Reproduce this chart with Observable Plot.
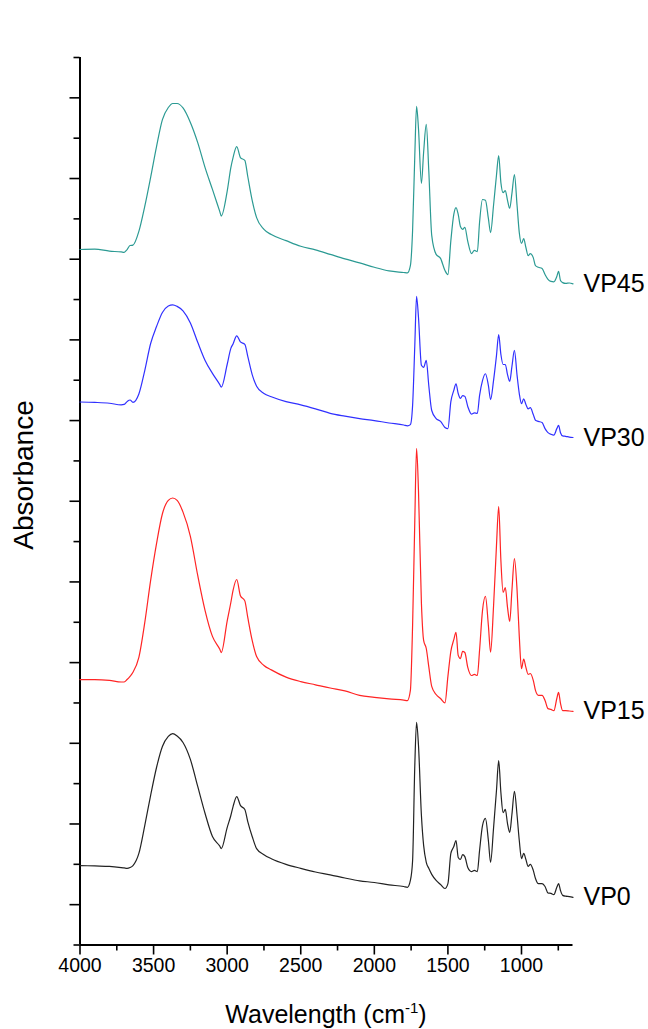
<!DOCTYPE html>
<html><head><meta charset="utf-8">
<script src="https://cdn.jsdelivr.net/npm/d3@7"></script>
<script src="https://cdn.jsdelivr.net/npm/@observablehq/plot@0.6"></script>
<style>
html,body{margin:0;padding:0;background:#fff;}
#chart svg{display:block;}
</style>
</head><body><div id="chart"></div>
<script>
// Wavenumber grid (cm-1)
const wavenumbers = [4000,3900,3800,3720,3700,3680,3660,3640,3600,3560,
  3520,3480,3440,3400,3370,3340,3300,3250,3200,3150,
  3100,3050,3040,3000,2975,2960,2935,2910,2880,2860,
  2830,2800,2750,2700,2600,2500,2400,2300,2200,2100,
  2000,1900,1800,1775,1755,1740,1725,1713,1700,1680,
  1665,1647,1630,1610,1580,1550,1520,1500,1480,1460,
  1445,1430,1415,1400,1385,1365,1340,1320,1300,1285,
  1265,1245,1225,1210,1190,1170,1155,1140,1125,1110,
  1095,1080,1065,1048,1030,1015,1000,985,970,955,
  940,920,905,885,860,840,820,800,780,760,
  748,735,720,700,675,650];

// Absorbance (offset-stacked) per sample
const vp45 = [1.724,1.725,1.720,1.718,1.717,1.724,1.734,1.735,1.769,1.831,
  1.903,1.979,2.046,2.076,2.086,2.086,2.075,2.039,1.989,1.927,
  1.873,1.818,1.807,1.868,1.927,1.952,1.979,1.952,1.945,1.905,
  1.846,1.803,1.774,1.761,1.746,1.732,1.723,1.712,1.701,1.691,
  1.680,1.671,1.667,1.666,1.684,1.771,1.957,2.079,2.024,1.888,
  1.965,2.034,1.920,1.759,1.712,1.702,1.672,1.662,1.746,1.811,
  1.828,1.811,1.781,1.774,1.779,1.744,1.714,1.722,1.719,1.791,
  1.848,1.846,1.801,1.766,1.833,1.908,1.957,1.890,1.865,1.870,
  1.846,1.826,1.863,1.910,1.833,1.766,1.739,1.751,1.729,1.709,
  1.714,1.704,1.684,1.680,1.677,1.662,1.650,1.645,1.644,1.657,
  1.670,1.647,1.642,1.640,1.641,1.639];

const vp30 = [1.346,1.345,1.343,1.339,1.340,1.347,1.351,1.345,1.366,1.424,
  1.491,1.533,1.568,1.584,1.587,1.583,1.572,1.542,1.494,1.449,
  1.417,1.389,1.383,1.439,1.479,1.490,1.510,1.495,1.489,1.459,
  1.414,1.385,1.367,1.359,1.347,1.339,1.329,1.318,1.311,1.305,
  1.300,1.294,1.289,1.287,1.290,1.337,1.486,1.608,1.556,1.437,
  1.432,1.449,1.387,1.325,1.305,1.298,1.283,1.280,1.347,1.375,
  1.391,1.367,1.355,1.362,1.360,1.335,1.316,1.319,1.318,1.362,
  1.399,1.416,1.387,1.352,1.399,1.461,1.513,1.464,1.439,1.439,
  1.414,1.397,1.434,1.474,1.412,1.367,1.342,1.354,1.340,1.329,
  1.332,1.315,1.301,1.298,1.295,1.280,1.270,1.266,1.264,1.280,
  1.288,1.270,1.262,1.261,1.259,1.258];

const vp15 = [0.658,0.658,0.656,0.652,0.652,0.658,0.666,0.676,0.713,0.799,
  0.904,0.995,1.069,1.102,1.108,1.102,1.073,1.013,0.916,0.829,
  0.765,0.733,0.725,0.803,0.849,0.879,0.906,0.866,0.853,0.812,
  0.755,0.715,0.693,0.682,0.664,0.653,0.645,0.637,0.630,0.619,
  0.614,0.610,0.607,0.606,0.631,0.792,1.052,1.231,1.127,0.847,
  0.755,0.735,0.690,0.641,0.621,0.611,0.600,0.666,0.728,0.757,
  0.775,0.718,0.710,0.728,0.725,0.688,0.668,0.671,0.668,0.730,
  0.829,0.864,0.792,0.726,0.839,0.990,1.087,0.953,0.874,0.886,
  0.837,0.802,0.879,0.958,0.879,0.765,0.685,0.709,0.688,0.671,
  0.673,0.656,0.631,0.619,0.619,0.606,0.586,0.584,0.581,0.611,
  0.626,0.599,0.581,0.581,0.580,0.579];

const vp0 = [0.197,0.196,0.195,0.192,0.191,0.190,0.192,0.197,0.227,0.296,
  0.371,0.440,0.492,0.517,0.524,0.518,0.502,0.460,0.393,0.326,
  0.269,0.245,0.239,0.291,0.321,0.343,0.368,0.346,0.336,0.306,
  0.269,0.239,0.224,0.214,0.200,0.190,0.181,0.174,0.166,0.159,
  0.155,0.149,0.145,0.143,0.160,0.209,0.445,0.552,0.495,0.321,
  0.247,0.205,0.190,0.175,0.160,0.150,0.140,0.152,0.227,0.244,
  0.259,0.217,0.212,0.224,0.219,0.192,0.182,0.185,0.182,0.234,
  0.296,0.314,0.259,0.205,0.289,0.383,0.457,0.378,0.328,0.336,
  0.301,0.279,0.324,0.381,0.321,0.259,0.214,0.227,0.212,0.195,
  0.200,0.185,0.165,0.152,0.152,0.145,0.129,0.128,0.125,0.143,
  0.152,0.135,0.123,0.121,0.120,0.118];

const seriesNames = ["VP45","VP30","VP15","VP0"];
const seriesColors = ["#2b9a93","#3030ff","#ff2424","#222222"];
const xMajorTicks = [4000,3500,3000,2500,2000,1500,1000];
const xMinorTicks = [3750,3250,2750,2250,1750,1250,750];
const yMajorTicks = [0.1,0.3,0.5,0.7,0.9,1.1,1.3,1.5,1.7,1.9,2.1];
const yMinorTicks = [0,0.2,0.4,0.6,0.8,1.0,1.2,1.4,1.6,1.8,2.0,2.2];
const xDomain = [4000,650];
const yDomain = [0,2.2];

const valuesBySeries = {VP45: vp45, VP30: vp30, VP15: vp15, VP0: vp0};
const rows = seriesNames.flatMap(name => wavenumbers.map((w, i) => ({series: name, wavenumber: w, absorbance: valuesBySeries[name][i]})));
const ends = seriesNames.map(name => ({series: name, wavenumber: wavenumbers[wavenumbers.length - 1], absorbance: valuesBySeries[name][valuesBySeries[name].length - 1]}));

const chart = Plot.plot({
  width: 648, height: 1029,
  marginTop: 57, marginBottom: 84.5, marginLeft: 79.5, marginRight: 75.5,
  style: {fontFamily: "'Liberation Sans', Arial, sans-serif", background: "#fff", color: "#000"},
  x: {domain: xDomain},
  y: {domain: yDomain},
  color: {domain: seriesNames, range: seriesColors},
  marks: [
    Plot.axisX({ticks: xMajorTicks, tickSize: 10, tickPadding: 3, tickFormat: "d", fontSize: 19.5, strokeWidth: 1.6, label: null}),
    Plot.axisX({ticks: xMinorTicks, tickSize: 6, tickFormat: () => "", strokeWidth: 1.6, label: null}),
    Plot.axisY({ticks: yMajorTicks, tickSize: 10, tickFormat: () => "", strokeWidth: 1.6, label: null}),
    Plot.axisY({ticks: yMinorTicks, tickSize: 6, tickFormat: () => "", strokeWidth: 1.6, label: null}),
    Plot.ruleY([0], {strokeWidth: 2}),
    Plot.ruleX([4000], {strokeWidth: 2}),
    Plot.line(rows, {x: "wavenumber", y: "absorbance", z: "series", stroke: "series", strokeWidth: 1.2, curve: "monotone-x"}),
    Plot.text(ends, {x: "wavenumber", y: "absorbance", text: "series", dx: 10.5, textAnchor: "start", fontSize: 25, fill: "#000"})
  ]
});

document.getElementById("chart").appendChild(chart);

const svg = d3.select(chart);
svg.append("text")
  .attr("transform", "translate(33,475) rotate(-90)")
  .attr("text-anchor", "middle")
  .attr("font-size", 28)
  .attr("fill", "#000")
  .text("Absorbance");
const xt = svg.append("text")
  .attr("x", 326).attr("y", 1023)
  .attr("text-anchor", "middle")
  .attr("font-size", 25)
  .attr("fill", "#000");
xt.append("tspan").text("Wavelength (cm");
xt.append("tspan").attr("dy", -10).attr("font-size", 15).text("-1");
xt.append("tspan").attr("dy", 10).text(")");
</script>
</body></html>
